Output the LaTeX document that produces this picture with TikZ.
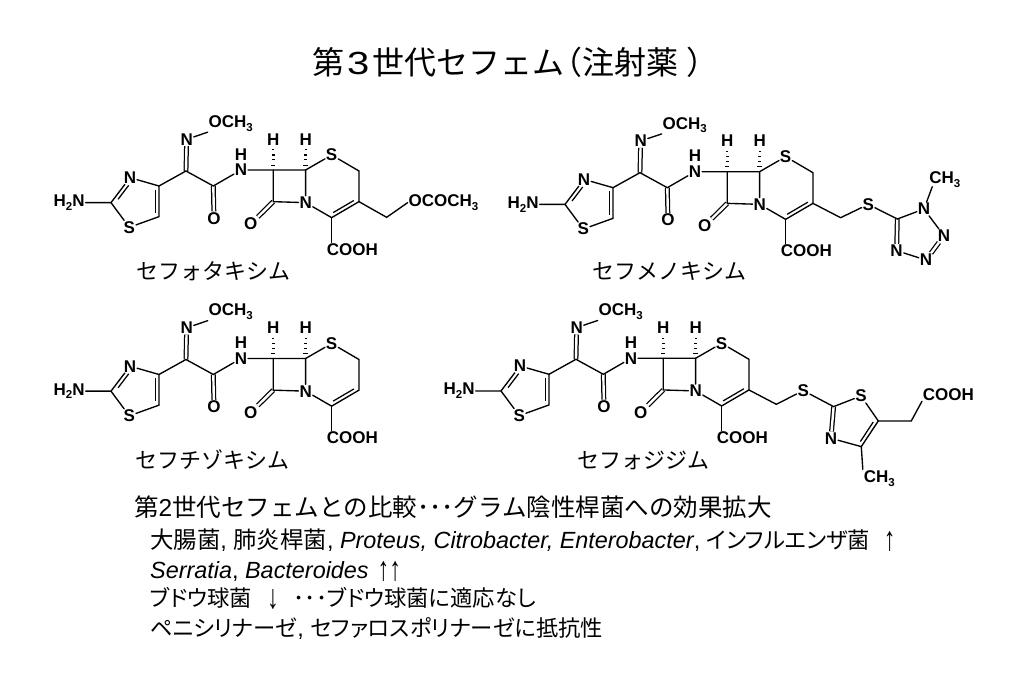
\documentclass[tikz,border=0pt]{standalone}
\usepackage{fontspec}
\setmainfont{Liberation Sans}
\newfontfamily\jpf{Noto Sans CJK JP}
\newfontfamily\jpp[RawFeature=+palt]{Noto Sans CJK JP}
\newfontfamily\jpb[RawFeature=+palt,Scale=0.953]{Noto Sans CJK JP}
\usetikzlibrary{calc}
\newcommand{\jt}[1]{{\jpf #1}}
\newcommand{\jb}[1]{{\jpb #1}}
\newcommand{\jk}[1]{{\jpp #1}}
\newcommand{\lsub}[1]{\raisebox{-0.22em}{\fontsize{11.5}{11.5}\selectfont #1}}
\newcommand{\tallup}{\raisebox{-2.5pt}{\scalebox{1}[1.45]{↑}}}
\newcommand{\talldown}{\raisebox{-2.5pt}{\scalebox{1}[1.45]{↓}}}
\tikzset{
  atom/.style={inner sep=0.8pt,font=\fontsize{17}{17}\selectfont\bfseries,text=black},
  bond/.style={line width=1.35pt,line cap=round},
  dblbond/.style={double,double distance=2.4pt,line width=1.25pt},
  innerb/.style={line width=1.25pt},
  hashtick/.style={line width=1.1pt},
  caption/.style={anchor=base west,inner sep=0pt,font=\fontsize{22}{24}\selectfont\jpf},
  bodya/.style={anchor=base west,inner sep=0pt,font=\fontsize{24.5}{26}\selectfont},
  bodyb/.style={anchor=base west,inner sep=0pt,font=\fontsize{23.4}{24}\selectfont},
  titletext/.style={anchor=base west,inner sep=0pt,font=\fontsize{32}{34}\selectfont}
}
% inner line of a ring double bond
\newcommand{\inbond}[5]{\draw[innerb] ($(#1)!#3!(#2)!3.6pt!#5:(#2)$) -- ($(#1)!#4!(#2)!3.6pt!#5:(#2)$);}
\newcommand{\hashes}[2]{\foreach \f/\w in {.16/6.5,.33/5,.49/3.8,.66/2.6}{\draw[hashtick] ($(#1)!\f!(#2)+(-\w,0)$) -- ($(#1)!\f!(#2)+(\w,0)$);}}
\newcommand{\core}{%
  \node[atom,anchor=east] (NH2) at (137,278) {H\lsub{2}N};
  \coordinate (C2) at (213,278);
  \node[atom] (N3) at (270,203) {N};
  \coordinate (C4) at (357,228);
  \coordinate (C5) at (357,320);
  \node[atom] (S1) at (268,352) {S};
  \coordinate (Ca) at (438,183);
  \node[atom] (Nox) at (440,88) {N};
  \node[atom,anchor=west] (OMe) at (503,40) {OCH\lsub{3}};
  \coordinate (CO) at (520,228);
  \node[atom] (Oa) at (522,325) {O};
  \node[atom] (NH) at (603,180) {N};
  \node[atom] (HN) at (603,133) {H};
  \coordinate (C7) at (700,180);
  \coordinate (C6) at (797,180);
  \coordinate (C8) at (700,275);
  \node[atom] (N5) at (797,278) {N};
  \node[atom] (H7) at (700,88) {H};
  \node[atom] (H6) at (797,88) {H};
  \node[atom] (Ob) at (632,342) {O};
  \node[atom] (S6) at (875,135) {S};
  \coordinate (CS) at (957,183);
  \coordinate (C3) at (957,275);
  \coordinate (Cc) at (875,323);
  \node[atom] (COOH) at (937,418) {COOH};
  \draw[dblbond] (Ca) -- (Nox);
  \draw[dblbond] (CO) -- (Oa);
  \draw[dblbond] (C8) -- (Ob);
  \draw[bond] (NH2) -- (C2) -- (N3) -- (C4) -- (C5) -- (S1) -- (C2);
  \draw[bond] (C4) -- (Ca) -- (CO) -- (NH) -- (C7) -- (C6);
  \draw[bond] (Nox) -- (OMe.south west);
  \draw[bond] (C7) -- (C8) -- (N5) -- (C6) -- (S6) -- (CS) -- (C3) -- (Cc) -- (N5);
  \draw[bond] (Cc) -- (COOH.north -| Cc);
  \inbond{C2}{N3}{.22}{.78}{-90}
  \inbond{C4}{C5}{.12}{.88}{-90}
  \inbond{C3}{Cc}{.12}{.88}{-90}
  \hashes{C7}{H7}
  \hashes{C6}{H6}
}
\begin{document}
\begin{tikzpicture}[x=1pt,y=-1pt]
\useasboundingbox (0,0) rectangle (1023,682);
\fill[white] (0,0) rectangle (1023,682);
\node[titletext] (title) at (312,75) {\jt{第}\hspace{3pt}\scalebox{1.25}[1]{3}\hspace{3pt}\jt{世代セフェム}\hspace{-14pt}\jt{（注射薬}\hspace{8pt}\jt{）}};

% cefotaxime
\begin{scope}[shift={(40,110)},x=0.3333pt,y=-0.3333pt,name prefix=ma-]
  \core
  \coordinate (CM) at (1040,322);
  \node[atom,anchor=west] (OAc) at (1103,278) {OCOCH\lsub{3}};
  \draw[bond] (C3) -- (CM) -- (OAc.west);
\end{scope}

% cefmenoxime
\begin{scope}[shift={(494,111.7)},x=0.3333pt,y=-0.3333pt,name prefix=mb-]
  \core
  \coordinate (CM) at (1040,318);
  \node[atom] (St) at (1123,278) {S};
  \coordinate (Ct) at (1210,322);
  \node[atom] (Na) at (1290,292) {N};
  \node[atom] (Nb) at (1350,372) {N};
  \node[atom] (Nc) at (1296,445) {N};
  \node[atom] (Nd) at (1208,417) {N};
  \node[atom,anchor=west] (Me) at (1303,203) {CH\lsub{3}};
  \coordinate (Mt) at (1315,225);
  \draw[dblbond] (Ct) -- (Nd);
  \draw[dblbond] (Nb) -- (Nc);
  \draw[bond] (C3) -- (CM) -- (St) -- (Ct) -- (Na) -- (Nb);
  \draw[bond] (Nc) -- (Nd);
  \draw[bond] (Na) -- (Mt);
\end{scope}

% ceftizoxime
\begin{scope}[shift={(40,298.5)},x=0.3333pt,y=-0.3333pt,name prefix=mc-]
  \core
\end{scope}

% cefodizime
\begin{scope}[shift={(430,298.3)},x=0.3333pt,y=-0.3333pt,name prefix=md-]
  \core
  \coordinate (CM) at (1039,318);
  \node[atom] (St) at (1120,277) {S};
  \coordinate (Ct) at (1211,325);
  \node[atom] (Sz) at (1293,293) {S};
  \coordinate (Cf) at (1345,368);
  \coordinate (Cg) at (1294,445);
  \node[atom] (Nz) at (1203,420) {N};
  \node[atom] (Mz) at (1348,540) {CH\lsub{3}};
  \coordinate (Ch) at (1444,368);
  \node[atom,anchor=west] (Cz) at (1476,288) {COOH};
  \draw[dblbond] (Ct) -- (Nz);
  \draw[bond] (C3) -- (CM) -- (St) -- (Ct) -- (Sz) -- (Cf) -- (Cg) -- (Nz);
  \draw[bond] (Cg) -- (Mz.north west);
  \draw[bond] (Cf) -- (Ch) -- (Cz.south west);
  \inbond{Cf}{Cg}{.12}{.88}{-90}
\end{scope}

\node[caption] (capa) at (136,279) {セフォタキシム};
\node[caption] (capb) at (592,279) {セフメノキシム};
\node[caption] (capc) at (135,468) {セフチゾキシム};
\node[caption] (capd) at (577,468) {セフォジジム};

\node[bodya] (la) at (134,516) {\jt{第}2\jt{世代セフェムとの比較･･･グラム陰性桿菌への効果拡大}};
\node[bodyb] (lb) at (150,548) {\jk{大腸菌}, \jk{肺炎桿菌}, \textit{Proteus, Citrobacter, Enterobacter}, \jb{インフルエンザ菌}\hspace{14pt}\tallup};
\node[bodyb] (lc) at (150,578) {\textit{Serratia}, \textit{Bacteroides}\hspace{9pt}\tallup\tallup};
\node[bodyb] (ld) at (150,606) {\jb{ブドウ球菌}\hspace{15pt}\talldown\hspace{15pt}\jb{･･･ブドウ球菌に適応なし}};
\node[bodyb] (le) at (150,636) {\jb{ペニシリナーゼ}, \jb{セファロスポリナーゼに抵抗性}};
\end{tikzpicture}
\end{document}
